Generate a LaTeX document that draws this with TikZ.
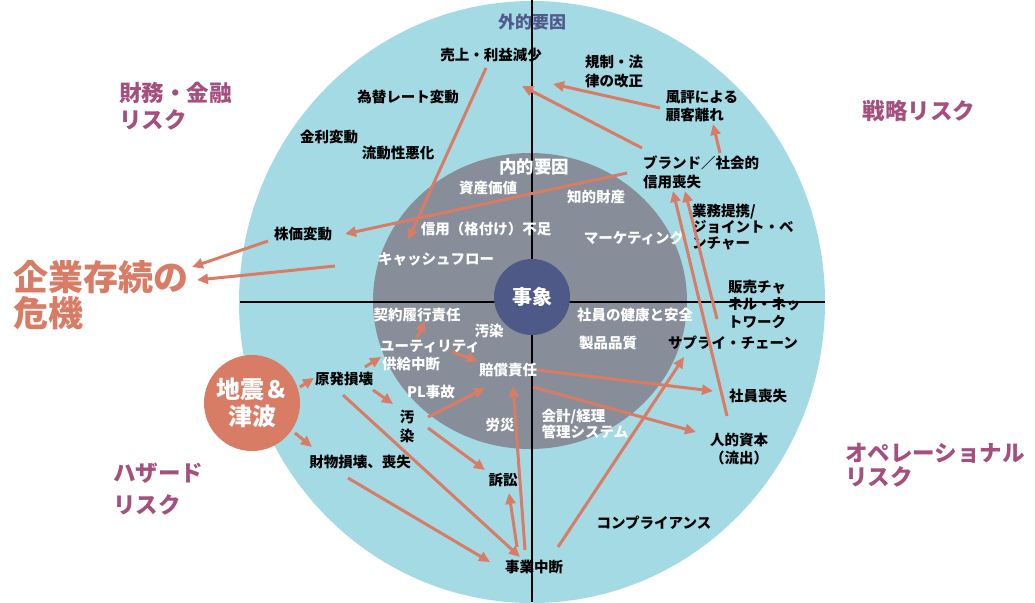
\documentclass[tikz,border=0pt]{standalone}
\usepackage{fontspec}
\setmainfont{Noto Sans CJK JP}
\usetikzlibrary{arrows.meta}
\definecolor{ringc}{RGB}{164,218,228}
\definecolor{innerc}{RGB}{136,142,153}
\definecolor{corec}{RGB}{79,89,135}
\definecolor{arrc}{RGB}{216,124,102}
\definecolor{catc}{RGB}{163,80,126}
\definecolor{gaic}{RGB}{80,90,140}
\tikzset{
  lbl/.style={font=\bfseries\fontsize{14.5}{17.5}\selectfont, inner sep=0pt, align=center, text=black},
  wlbl/.style={lbl, text=white},
  cat/.style={font=\bfseries\fontsize{22.5}{27}\selectfont, text=catc, inner sep=0pt, align=left},
  arr/.style={draw=arrc, line width=3pt, -{Triangle[length=11pt,width=10pt]}},
  axis/.style={draw=black, line width=1.5pt},
}
\begin{document}
\begin{tikzpicture}[x=1pt,y=-1pt]
\useasboundingbox (0,0) rectangle (1035,602);
\clip (0,0) rectangle (1035,602);
% rings
\fill[ringc] (532,302) ellipse [x radius=293pt, y radius=301pt];
\fill[innerc] (530,301) ellipse [x radius=157pt, y radius=148pt];
% axes
\draw[axis] (240,302) -- (825,302);
\draw[axis] (532,0) -- (532,602);
% core
\node[circle, fill=corec, minimum size=76pt, inner sep=0pt, text=white,
      font=\bfseries\fontsize{20}{22}\selectfont] (core) at (532,297) {事象};
% category labels
\node[cat, anchor=west] (zaimu) at (119,106.5) {財務・金融\\リスク};
\node[cat] (senryaku) at (919,111) {戦略リスク};
\node[cat, anchor=west, font=\bfseries\fontsize{22.5}{24.5}\selectfont] (ope) at (845,465) {オペレーショナル\\リスク};
\node[cat, anchor=west, font=\bfseries\fontsize{22.5}{32}\selectfont] (hazard) at (113,489) {ハザード\\リスク};
\node[anchor=west, inner sep=0pt, align=left, text=arrc,
      font=\bfseries\fontsize{35}{36}\selectfont] (kiki) at (13,295) {企業存続の\\危機};
\node[circle, fill=arrc, minimum size=96pt, inner sep=0pt, text=white, align=center,
      font=\bfseries\fontsize{24}{27}\selectfont] (quake) at (252,403) {地震＆\\津波};
% outer labels
\node[inner sep=0pt, text=gaic, font=\bfseries\fontsize{17}{19}\selectfont] (gaiteki) at (532,22) {外的要因};
\node[lbl] (uriage) at (491,55) {売上・利益減少};
\node[lbl] (kawase) at (408,97) {為替レート変動};
\node[lbl] (kinri) at (329,137) {金利変動};
\node[lbl] (ryudo) at (398,153) {流動性悪化};
\node[lbl, align=left, font=\bfseries\fontsize{14.5}{19}\selectfont] (kisei) at (614,72) {規制・法\\律の改正};
\node[lbl, align=left, font=\bfseries\fontsize{14.5}{18}\selectfont] (fuhyo) at (702,106) {風評による\\顧客離れ};
\node[lbl, align=left, anchor=west, font=\bfseries\fontsize{14.5}{19}\selectfont] (brand) at (643,172) {ブランド／社会的\\信用喪失};
\node[lbl, align=left, anchor=west, font=\bfseries\fontsize{14.5}{16}\selectfont] (gyomu) at (692,227) {業務提携/\\ジョイント・ベ\\ンチャー};
\node[lbl, align=left, anchor=west] (hanbai) at (728,304) {販売チャ\\ネル・ネッ\\トワーク};
\node[lbl] (supply) at (733,343) {サプライ・チェーン};
\node[lbl] (shainso) at (758,396) {社員喪失};
\node[lbl] (jinteki) at (739,449) {人的資本\\（流出）};
\node[lbl] (comp) at (654,523) {コンプライアンス};
\node[lbl] (jigyo) at (534,567) {事業中断};
\node[lbl] (sosho) at (503,480) {訴訟};
\node[lbl] (zaibutsu) at (360,462) {財物損壊、喪失};
\node[lbl] (genpatsu) at (344,379) {原発損壊};
\node[lbl, font=\bfseries\fontsize{14.5}{19}\selectfont] (osen) at (407,426) {汚\\染};
\node[lbl] (kabuka) at (303,234) {株価変動};
% inner labels
\node[wlbl, font=\bfseries\fontsize{17.5}{19}\selectfont] (naiteki) at (534,167) {内的要因};
\node[wlbl] (shisan) at (488,188) {資産価値};
\node[wlbl] (chiteki) at (596,197) {知的財産};
\node[wlbl] (shinyo) at (486,229) {信用（格付け）不足};
\node[wlbl] (mkt) at (634,238) {マーケティング};
\node[wlbl] (cf) at (436,259) {キャッシュフロー};
\node[wlbl] (keiyaku) at (417,315) {契約履行責任};
\node[wlbl] (kenko) at (635,315) {社員の健康と安全};
\node[wlbl] (osenin) at (489,331) {汚染};
\node[wlbl] (utility) at (430,346) {ユーティリティ};
\node[wlbl] (hinshitsu) at (608,343) {製品品質};
\node[wlbl] (kyokyu) at (411,364) {供給中断};
\node[wlbl] (baisho) at (508,370) {賠償責任};
\node[wlbl] (pl) at (431,392) {PL事故};
\node[wlbl] (rosai) at (500,425) {労災};
\node[wlbl, align=left, font=\bfseries\fontsize{14.5}{15.5}\selectfont] (kaikei) at (585,424) {会計/経理\\管理システム};
\coordinate (ring) at (335,266);
% arrows
\draw[arr] ([shift={(-5,13)}]uriage.center) -- ([shift={(-28,-19)}]cf.center);
\draw[arr] ([shift={(-16,1)}]brand.west) -- ([shift={(42,0)}]kabuka.center);
\draw[arr] ([shift={(-35,7)}]kabuka.center) -- ([shift={(179,-28)}]kiki.west);
\draw[arr] (ring) -- ([shift={(184,-15)}]kiki.west);
\draw[arr] ([shift={(-42,2)}]fuhyo.center) -- ([shift={(62,29)}]uriage.center);
\draw[arr] ([shift={(-1,-24)}]brand.west) -- ([shift={(31,31)}]uriage.center);
\draw[arr] ([shift={(77,-19)}]brand.west) -- ([shift={(11,18)}]fuhyo.center);
\draw[arr] ([shift={(-12,-33)}]jinteki.center) -- ([shift={(30,19)}]brand.west);
\draw[arr] ([shift={(-11,15)}]hanbai.west) -- ([shift={(42,19)}]brand.west);
\draw[arr] ([shift={(21,-12)}]genpatsu.center) -- ([shift={(-30,-7)}]kyokyu.center);
\draw[arr] ([shift={(48,-16)}]quake.center) -- ([shift={(-30,-1)}]genpatsu.center);
\draw[arr] ([shift={(43,30)}]quake.center) -- ([shift={(-48,-15)}]zaibutsu.center);
\draw[arr] ([shift={(29,11)}]genpatsu.center) -- ([shift={(-14,-22)}]osen.center);
\draw[arr] ([shift={(-1,16)}]genpatsu.center) -- ([shift={(-14,-10)}]jigyo.center);
\draw[arr] ([shift={(-12,16)}]zaibutsu.center) -- ([shift={(-44,-5)}]jigyo.center);
\draw[arr] ([shift={(21,-9)}]osen.center) -- ([shift={(-23,18)}]baisho.center);
\draw[arr] ([shift={(21,2)}]osen.center) -- ([shift={(-18,-10)}]sosho.center);
\draw[arr] ([shift={(-17,-20)}]jigyo.center) -- ([shift={(6,13)}]sosho.center);
\draw[arr] ([shift={(-9,-17)}]jigyo.center) -- ([shift={(5,16)}]baisho.center);
\draw[arr] ([shift={(24,-20)}]jigyo.center) -- ([shift={(-49,14)}]supply.center);
\draw[arr] ([shift={(29,0)}]baisho.center) -- ([shift={(-45,-5)}]shainso.center);
\draw[arr] ([shift={(25,17)}]baisho.center) -- ([shift={(-43,-17)}]jinteki.center);
\draw[arr] ([shift={(-13,-8)}]utility.center) -- ([shift={(8,6)}]keiyaku.center);
\draw[arr] ([shift={(22,6)}]utility.center) -- ([shift={(-30,-9)}]baisho.center);
\end{tikzpicture}
\end{document}
